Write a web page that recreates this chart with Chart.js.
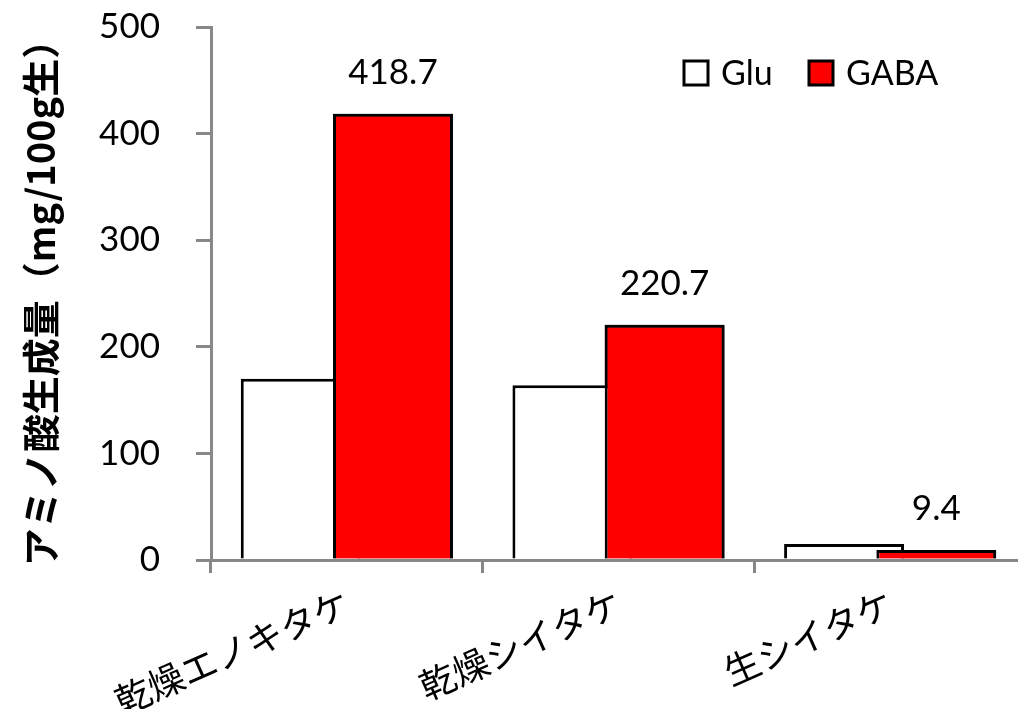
<!DOCTYPE html>
<html lang="ja">
<head>
<meta charset="utf-8">
<title>アミノ酸生成量</title>
<script src="https://cdn.jsdelivr.net/npm/chart.js@4/dist/chart.umd.min.js"></script>
<style>
  html, body { margin: 0; padding: 0; background: #fff; overflow: hidden; }
  #wrap { width: 1030px; height: 709px; }
</style>
</head>
<body>
<div id="wrap"><canvas id="c" width="1030" height="709"></canvas></div>
<script>
// Categories and measured amounts (mg/100g)
const categories = ['乾燥エノキタケ', '乾燥シイタケ', '生シイタケ'];
const seriesNames = ['Glu', 'GABA'];
const gluValues = [170, 164, 15];
const gabaValues = [418.7, 220.7, 9.4];
const yTicks = [0, 100, 200, 300, 400, 500];

const LATIN = 'Lato, "Noto Sans CJK JP", sans-serif';
const CJK = '"Noto Sans CJK JP", Lato, sans-serif';
const AXIS_GREY = '#888888';

// GABA bars overlap the Glu bars: paint them again on top,
// then write their values above them
const gabaOnTop = {
  id: 'gabaOnTop',
  afterDatasetsDraw(chart) {
    const ctx = chart.ctx;
    const meta = chart.getDatasetMeta(1);
    const data = chart.data.datasets[1].data;
    ctx.save();
    meta.data.forEach(bar => bar.draw(ctx));
    ctx.font = '35px ' + LATIN;
    ctx.fillStyle = '#000';
    ctx.textAlign = 'center';
    ctx.textBaseline = 'middle';
    meta.data.forEach((bar, i) => {
      ctx.fillText(data[i].toFixed(1), bar.x, bar.y - 41);
    });
    ctx.restore();
  }
};

// Legend drawn inside the plot area, top right
const insideLegend = {
  id: 'insideLegend',
  afterDraw(chart) {
    const ctx = chart.ctx;
    const items = [
      { x: 684, label: seriesNames[0], fill: '#ffffff' },
      { x: 809, label: seriesNames[1], fill: '#ff0000' }
    ];
    const cy = 73;
    ctx.save();
    ctx.font = '34px ' + LATIN;
    ctx.textBaseline = 'middle';
    ctx.textAlign = 'left';
    items.forEach(it => {
      ctx.fillStyle = it.fill;
      ctx.fillRect(it.x, cy - 12, 24, 24);
      ctx.strokeStyle = '#000';
      ctx.lineWidth = 3;
      ctx.strokeRect(it.x, cy - 12, 24, 24);
      ctx.fillStyle = '#000';
      ctx.fillText(it.label, it.x + 37, cy + 1);
    });
    ctx.restore();
  }
};

new Chart(document.getElementById('c'), {
  type: 'bar',
  data: {
    labels: categories,
    datasets: [
      {
        label: seriesNames[0],
        data: gluValues,
        backgroundColor: '#ffffff',
        borderColor: '#000000',
        borderWidth: 3,
        categoryPercentage: 0.679,
        barPercentage: 1.3
      },
      {
        label: seriesNames[1],
        data: gabaValues,
        backgroundColor: '#ff0000',
        borderColor: '#000000',
        borderWidth: 3,
        categoryPercentage: 0.679,
        barPercentage: 1.3
      }
    ]
  },
  options: {
    responsive: false,
    animation: false,
    layout: { padding: { top: 27, right: 4, left: 0, bottom: 0 } },
    plugins: {
      legend: { display: false },
      tooltip: { enabled: false }
    },
    scales: {
      x: {
        grid: {
          display: true,
          drawOnChartArea: false,
          drawTicks: true,
          tickLength: 13,
          color: AXIS_GREY,
          lineWidth: 3
        },
        border: { display: true, color: AXIS_GREY, width: 3 },
        ticks: {
          color: '#000',
          font: { family: CJK, size: 36 },
          minRotation: 24,
          maxRotation: 24,
          padding: 8
        },
        afterFit(scale) { scale.height = 149; }
      },
      y: {
        min: 0,
        max: 500,
        afterBuildTicks(scale) { scale.ticks = yTicks.map(v => ({ value: v })); },
        grid: {
          display: true,
          drawOnChartArea: false,
          drawTicks: true,
          tickLength: 15,
          color: AXIS_GREY,
          lineWidth: 3
        },
        border: { display: true, color: AXIS_GREY, width: 3 },
        ticks: {
          color: '#000',
          font: { family: LATIN, size: 35 },
          padding: 36
        },
        title: {
          display: true,
          text: 'アミノ酸生成量（mg/100g生）',
          color: '#000',
          font: { family: CJK, size: 38, weight: 'bold' },
          padding: { top: 18, bottom: 0 }
        },
        afterFit(scale) {
          scale.width = 211;
          // the plot top is set by the layout padding alone
          scale.paddingTop = 0;
          scale.paddingBottom = 0;
        }
      }
    }
  },
  plugins: [gabaOnTop, insideLegend]
});
</script>
</body>
</html>
